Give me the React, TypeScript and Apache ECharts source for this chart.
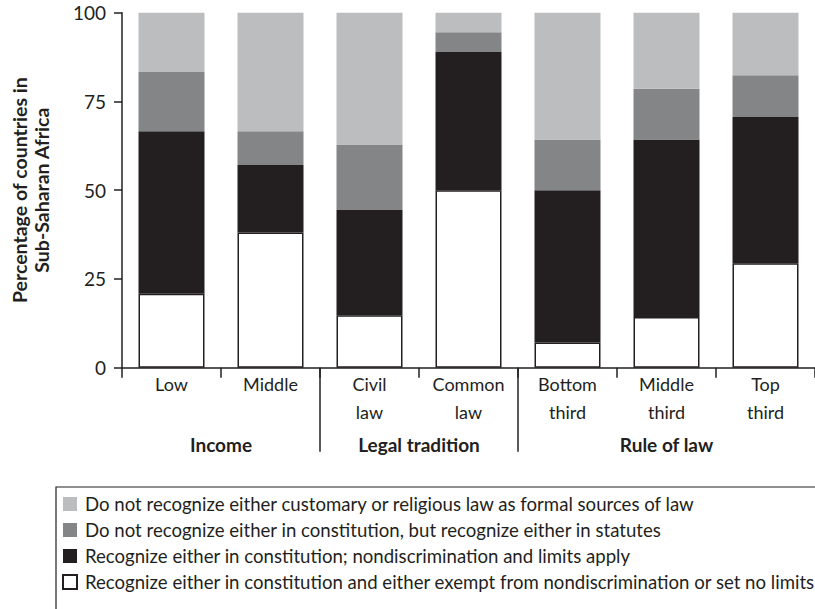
import React, { useEffect, useRef } from "react";
import * as echarts from "echarts";

const categories = ["Low", "Middle", "Civil\nlaw", "Common\nlaw", "Bottom\nthird", "Middle\nthird", "Top\nthird"];
const groupNames = ["Income", "Legal tradition", "Rule of law"];
const groupSizes = [2, 2, 3];

const seriesNames = [
  "Recognize either in constitution and either exempt from nondiscrimination or set no limits",
  "Recognize either in constitution; nondiscrimination and limits apply",
  "Do not recognize either in constitution, but recognize either in statutes",
  "Do not recognize either customary or religious law as formal sources of law",
];
const exemptValues = [20.8, 38.1, 14.8, 50.0, 7.1, 14.3, 29.4];
const limitsValues = [45.8, 19.0, 29.6, 38.9, 42.9, 50.0, 41.2];
const statutesValues = [16.7, 9.5, 18.5, 5.6, 14.3, 14.3, 11.8];
const noneValues = [16.7, 33.4, 37.1, 5.5, 35.7, 21.4, 17.6];
const yTicks = [0, 25, 50, 75, 100];

const INK = "#231f20";
const FONT = "Lato, 'Open Sans', sans-serif";

export default function App() {
  const ref = useRef<HTMLDivElement>(null);
  useEffect(() => {
    document.body.style.margin = "0";
    if (!ref.current) return;
    const chart = echarts.init(ref.current, null, { renderer: "svg" });
    const colors = ["#ffffff", INK, "#848587", "#bcbdbf"];
    const data = [exemptValues, limitsValues, statutesValues, noneValues];
    const option: any = {
      animation: false,
      textStyle: { fontFamily: FONT, color: INK },
      grid: { left: 111.7, top: 12.7, width: 711.7, height: 355 },
      xAxis: {
        type: "category",
        data: categories,
        boundaryGap: true,
        axisLine: { lineStyle: { color: INK, width: 1.5 } },
        axisTick: { show: true, length: 10, interval: 0, lineStyle: { color: INK, width: 1.5 } },
        axisLabel: { interval: 0, fontSize: 18, lineHeight: 28, margin: 2, color: INK, fontFamily: FONT },
      },
      yAxis: {
        type: "value",
        min: yTicks[0],
        max: yTicks[yTicks.length - 1],
        interval: 25,
        splitLine: { show: false },
        axisLine: { show: true, lineStyle: { color: INK, width: 1.5 } },
        axisTick: { show: true, length: 8, lineStyle: { color: INK, width: 1.5 } },
        axisLabel: { fontSize: 19, margin: 16, color: INK, fontFamily: FONT },
        name: "Percentage of countries in\nSub-Saharan Africa",
        nameLocation: "middle",
        nameGap: 70,
        nameTextStyle: { fontSize: 19.5, fontWeight: "bold", lineHeight: 22, color: INK, fontFamily: FONT },
      },
      legend: {
        orient: "vertical",
        left: 56,
        top: 487,
        height: 300,
        itemWidth: 14,
        itemHeight: 14,
        itemGap: 6,
        icon: "rect",
        padding: [7, 10, 40, 6],
        borderColor: INK,
        borderWidth: 1.2,
        data: [seriesNames[3], seriesNames[2], seriesNames[1], seriesNames[0]],
        textStyle: { fontSize: 18.6, lineHeight: 20, color: INK, fontFamily: FONT, padding: [0, 0, 0, 3] },
      },
      series: data.map((d, i) => ({
        type: "bar",
        name: seriesNames[i],
        stack: "total",
        barWidth: 66,
        data: d,
        itemStyle: i === 0
          ? { color: colors[i], borderColor: INK, borderWidth: 1.5 }
          : { color: colors[i], borderWidth: 0 },
      })),
    };
    chart.setOption(option);

    const x0 = chart.convertToPixel({ xAxisIndex: 0 }, 0) as number;
    const x1 = chart.convertToPixel({ xAxisIndex: 0 }, 1) as number;
    const band = x1 - x0;
    const yBase = chart.convertToPixel({ yAxisIndex: 0 }, 0) as number;
    const graphics: any[] = [];
    let start = 0;
    groupSizes.forEach((size, gi) => {
      const left = x0 - band / 2 + start * band;
      const right = left + size * band;
      graphics.push({
        type: "text",
        x: (left + right) / 2,
        y: yBase + 77,
        style: { text: groupNames[gi], fontSize: 19, fontWeight: "bold", fill: INK, fontFamily: FONT, align: "center", verticalAlign: "middle" },
      });
      if (gi > 0) {
        graphics.push({
          type: "line",
          shape: { x1: left, y1: yBase, x2: left, y2: yBase + 84 },
          style: { stroke: INK, lineWidth: 1.5 },
        });
      }
      start += size;
    });
    chart.setOption({ graphic: graphics });
    return () => chart.dispose();
  }, []);
  return <div ref={ref} style={{ position: "absolute", left: 0, top: 0, width: 815, height: 609 }} />;
}
